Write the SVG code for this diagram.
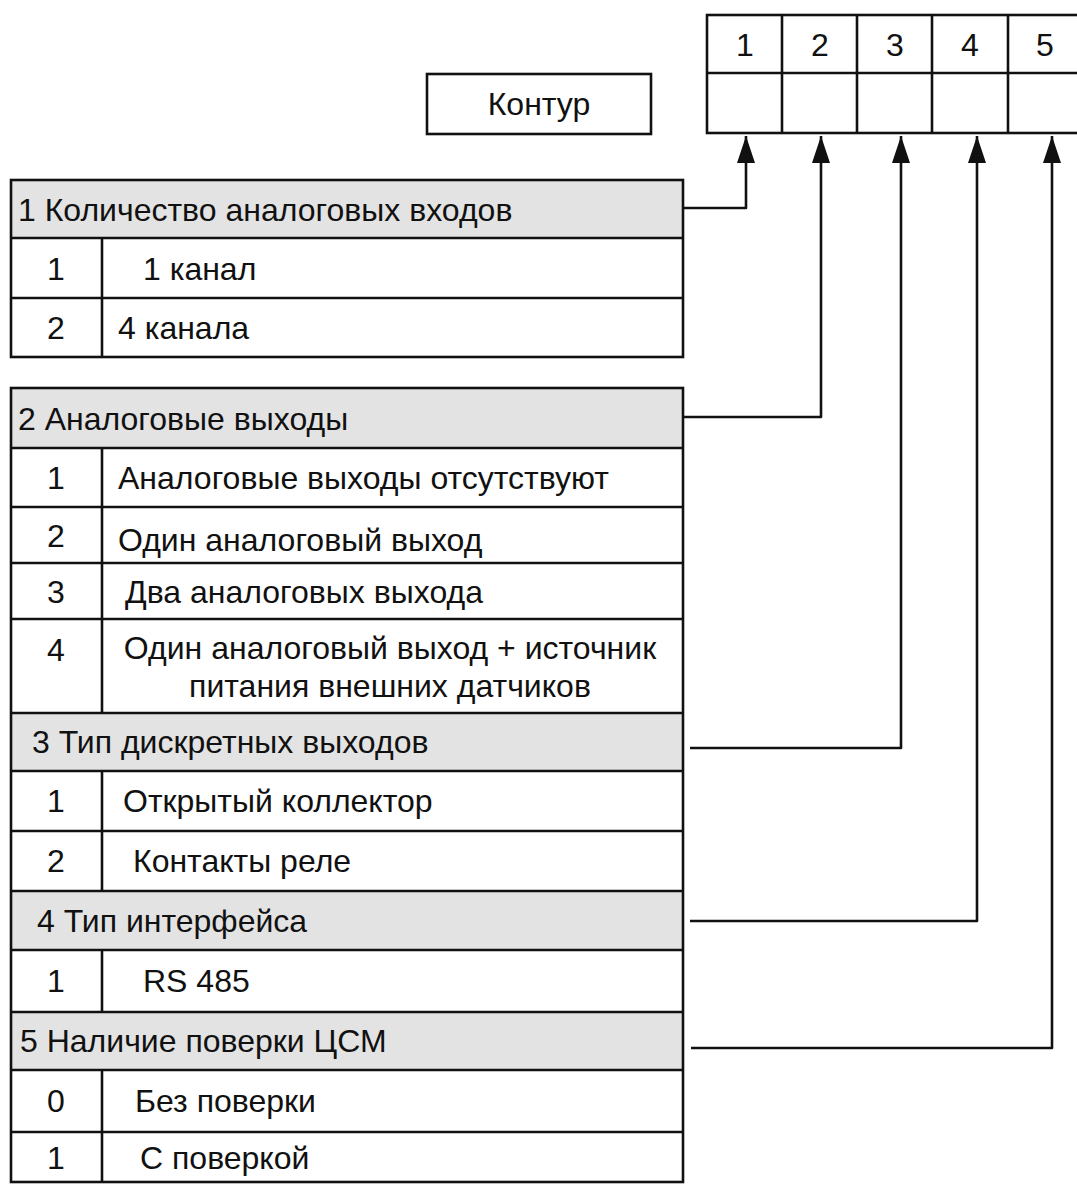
<svg xmlns="http://www.w3.org/2000/svg" width="1077" height="1184" viewBox="0 0 1077 1184">
<style>
  text { font-family: "Liberation Sans", Arial, sans-serif; font-size: 32px; fill: #111; }
  .ln { stroke: #111; stroke-width: 2.6; fill: none; }
  .hdr { fill: #e3e3e3; stroke: none; }
  .c { text-anchor: middle; }
  .conn { stroke: #111; stroke-width: 2.6; fill: none; stroke-linejoin: round; marker-end: url(#arr); }
</style>
<defs>
  <marker id="arr" viewBox="0 0 27 18" refX="27" refY="9" markerWidth="27" markerHeight="18" markerUnits="userSpaceOnUse" orient="auto">
    <path d="M0,0 L27,9 L0,18 z" fill="#111"/>
  </marker>
</defs>
<rect width="1077" height="1184" fill="#fff"/>

<g id="code-grid">
  <rect class="ln" x="707" y="15" width="400" height="118"/>
  <line class="ln" x1="707" y1="73" x2="1077" y2="73"/>
  <line class="ln" x1="782" y1="15" x2="782" y2="133"/>
  <line class="ln" x1="857" y1="15" x2="857" y2="133"/>
  <line class="ln" x1="932" y1="15" x2="932" y2="133"/>
  <line class="ln" x1="1008" y1="15" x2="1008" y2="133"/>
  <text class="c" x="745" y="56">1</text>
  <text class="c" x="820" y="56">2</text>
  <text class="c" x="895" y="56">3</text>
  <text class="c" x="970" y="56">4</text>
  <text class="c" x="1045" y="56">5</text>
</g>

<g id="kontur">
  <rect class="ln" x="427" y="74" width="224" height="60"/>
  <text class="c" x="539" y="115">Контур</text>
</g>

<g id="table1">
  <rect class="hdr" x="11" y="180" width="672" height="58"/>
  <rect class="ln" x="11" y="180" width="672" height="177"/>
  <line class="ln" x1="11" y1="238" x2="683" y2="238"/>
  <line class="ln" x1="11" y1="298" x2="683" y2="298"/>
  <line class="ln" x1="102" y1="238" x2="102" y2="357"/>
  <text x="18" y="221">1 Количество аналоговых входов</text>
  <text class="c" x="56" y="280">1</text>
  <text x="143" y="280">1 канал</text>
  <text class="c" x="56" y="339">2</text>
  <text x="118" y="339">4 канала</text>
</g>

<g id="table2">
  <rect class="hdr" x="11" y="388" width="672" height="60"/>
  <rect class="hdr" x="11" y="713" width="672" height="58"/>
  <rect class="hdr" x="11" y="891" width="672" height="59"/>
  <rect class="hdr" x="11" y="1012" width="672" height="58"/>
  <rect class="ln" x="11" y="388" width="672" height="794"/>
  <line class="ln" x1="11" y1="448" x2="683" y2="448"/>
  <line class="ln" x1="11" y1="507" x2="683" y2="507"/>
  <line class="ln" x1="11" y1="563" x2="683" y2="563"/>
  <line class="ln" x1="11" y1="619" x2="683" y2="619"/>
  <line class="ln" x1="11" y1="713" x2="683" y2="713"/>
  <line class="ln" x1="11" y1="771" x2="683" y2="771"/>
  <line class="ln" x1="11" y1="831" x2="683" y2="831"/>
  <line class="ln" x1="11" y1="891" x2="683" y2="891"/>
  <line class="ln" x1="11" y1="950" x2="683" y2="950"/>
  <line class="ln" x1="11" y1="1012" x2="683" y2="1012"/>
  <line class="ln" x1="11" y1="1070" x2="683" y2="1070"/>
  <line class="ln" x1="11" y1="1132" x2="683" y2="1132"/>
  <line class="ln" x1="102" y1="448" x2="102" y2="713"/>
  <line class="ln" x1="102" y1="771" x2="102" y2="891"/>
  <line class="ln" x1="102" y1="950" x2="102" y2="1012"/>
  <line class="ln" x1="102" y1="1070" x2="102" y2="1182"/>

  <text x="18" y="430">2 Аналоговые выходы</text>
  <text class="c" x="56" y="489">1</text>
  <text x="118" y="489">Аналоговые выходы отсутствуют</text>
  <text class="c" x="56" y="547">2</text>
  <text x="118" y="551">Один аналоговый выход</text>
  <text class="c" x="56" y="603">3</text>
  <text x="125" y="603">Два аналоговых выхода</text>
  <text class="c" x="56" y="661">4</text>
  <text class="c" x="390" y="659">Один аналоговый выход + источник</text>
  <text class="c" x="390" y="697">питания внешних датчиков</text>

  <text x="32" y="753">3 Тип дискретных выходов</text>
  <text class="c" x="56" y="812">1</text>
  <text x="123" y="812">Открытый коллектор</text>
  <text class="c" x="56" y="872">2</text>
  <text x="133" y="872">Контакты реле</text>

  <text x="37" y="932">4 Тип интерфейса</text>
  <text class="c" x="56" y="992">1</text>
  <text x="143" y="992">RS 485</text>

  <text x="20" y="1052">5 Наличие поверки ЦСМ</text>
  <text class="c" x="56" y="1112">0</text>
  <text x="135" y="1112">Без поверки</text>
  <text class="c" x="56" y="1169">1</text>
  <text x="140" y="1169">С поверкой</text>
</g>

<g id="connectors">
  <path class="conn" d="M683,208 H746 V136"/>
  <path class="conn" d="M683,417 H821 V136"/>
  <path class="conn" d="M690,748 H901 V136"/>
  <path class="conn" d="M690,921 H977 V136"/>
  <path class="conn" d="M691,1048 H1052 V136"/>
</g>
</svg>
